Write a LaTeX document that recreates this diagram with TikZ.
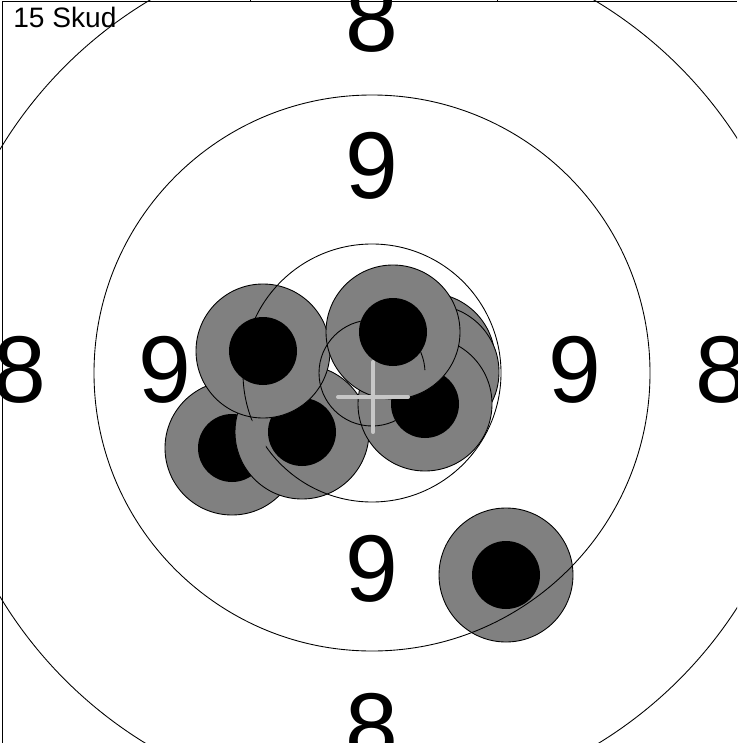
\documentclass[tikz,border=0pt]{standalone}
\usepackage{fontspec}
\setmainfont{Liberation Sans}
\begin{document}
\begin{tikzpicture}[x=0.02cm, y=-0.02cm,
    ring/.style={draw=black, line width=0.5pt},
    hit/.style={fill=gray, draw=black, line width=0.5pt},
    bull/.style={fill=black},
    score/.style={inner sep=0pt, font=\fontsize{54}{54}\selectfont},
    cross/.style={draw=black!22, line width=2.3pt, line cap=round}]
    \useasboundingbox (0,0) rectangle (737,743);
    \clip (0,0) rectangle (737,743);

    % Scores
    \node[score] (top8) at (372,19) {8};
    \node[score] (bot8) at (372,727) {8};
    \node[score] (left8) at (20,370) {8};
    \node[score] (right8) at (722,370) {8};
    \node[score] (top9) at (372,166) {9};
    \node[score] (bot9) at (372,569) {9};
    \node[score] (left9) at (165,370) {9};
    \node[score] (right9) at (575,370) {9};

    % Shots, in the order they were fired
    \foreach \sx/\sy in {232/448, 302/432, 263/351, 428/360, 432/372, 425/404, 393/332, 506/575} {
        \draw[hit] (\sx,\sy) circle [radius=67];
        \fill[bull] (\sx,\sy) circle [radius=34];
    }

    % Rings (kept off the visible black centres)
    \begin{scope}[even odd rule]
        \clip (0,0) rectangle (737,743)
            (232,448) circle [radius=34] (302,432) circle [radius=34]
            (263,351) circle [radius=34] (425,404) circle [radius=34]
            (393,332) circle [radius=34] (506,575) circle [radius=34];
        \foreach \r in {53, 129, 278, 434}
            \draw[ring] (372,373) circle [radius=\r];
    \end{scope}

    % Mean point
    \draw[cross] (373,362) -- (373,432);
    \draw[cross] (338,397) -- (408,397);

    % Frame
    \draw[line width=0.8pt] (2.5,743) -- (2.5,1.5) -- (737,1.5);
    \draw[line width=0.5pt] (250,0) -- (250,1.5);
    \draw[line width=0.5pt] (497,0) -- (497,1.5);
    \node[anchor=base west, inner sep=0pt, font=\fontsize{16}{16}\selectfont] (count) at (13,28) {15 Skud};
\end{tikzpicture}
\end{document}
